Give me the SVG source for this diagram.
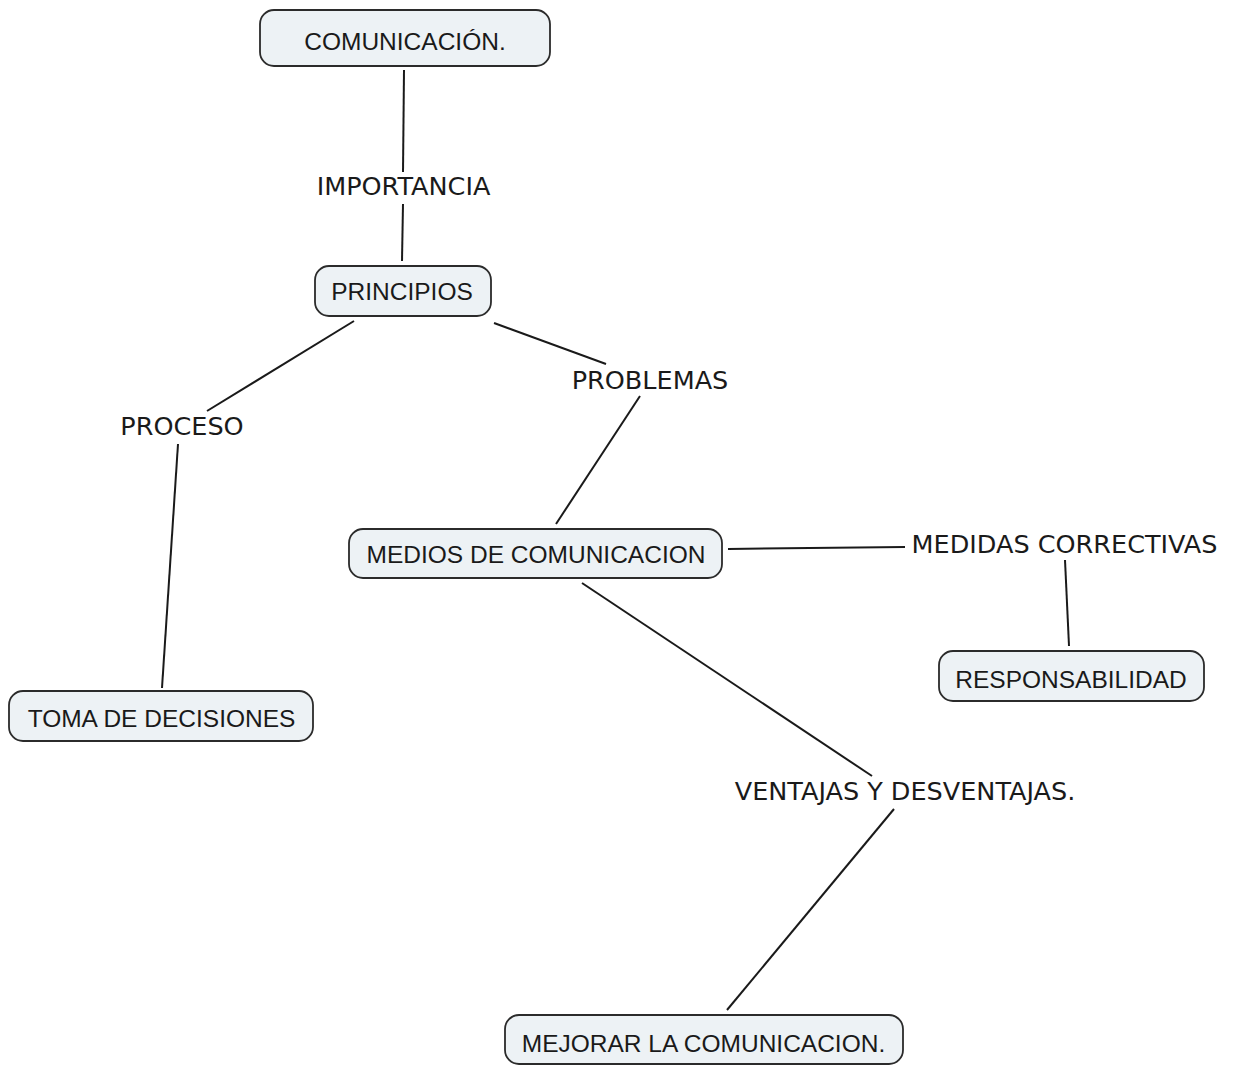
<svg xmlns="http://www.w3.org/2000/svg" width="1235" height="1065" viewBox="0 0 1235 1065">
  <style>
    .node rect { fill: #edf2f5; stroke: #2b2b2b; stroke-width: 1.8; }
    .node text { font-family: "Liberation Sans", Arial, sans-serif; font-size: 24.5px; fill: #1a1a1a; text-anchor: middle; }
    .link { stroke: #1a1a1a; stroke-width: 2; fill: none; }
    .label { font-family: "DejaVu Sans", Verdana, sans-serif; font-size: 25.5px; fill: #1a1a1a; text-anchor: middle; }
  </style>
  <rect width="1235" height="1065" fill="#ffffff"/>

  <!-- connectors -->
  <g id="connectors">
    <line class="link" x1="404" y1="70" x2="403" y2="172"/>
    <line class="link" x1="403" y1="204" x2="402" y2="261"/>
    <line class="link" x1="354" y1="321" x2="207" y2="411"/>
    <line class="link" x1="178" y1="444" x2="162" y2="688"/>
    <line class="link" x1="494" y1="323" x2="606" y2="364"/>
    <line class="link" x1="640" y1="396" x2="556" y2="524"/>
    <line class="link" x1="728" y1="549" x2="905" y2="547"/>
    <line class="link" x1="1065" y1="560" x2="1069" y2="646"/>
    <line class="link" x1="582" y1="583" x2="872" y2="776"/>
    <line class="link" x1="894" y1="809" x2="727" y2="1010"/>
  </g>

  <!-- link labels -->
  <g id="labels">
    <text class="label" x="403.5" y="195">IMPORTANCIA</text>
    <text class="label" x="182" y="435">PROCESO</text>
    <text class="label" x="650" y="389">PROBLEMAS</text>
    <text class="label" x="1064.5" y="553">MEDIDAS CORRECTIVAS</text>
    <text class="label" x="905" y="800">VENTAJAS Y DESVENTAJAS.</text>
  </g>

  <!-- concepts -->
  <g id="node-comunicacion" class="node">
    <rect x="260" y="10" width="290" height="56" rx="14"/>
    <text x="405" y="50">COMUNICACIÓN.</text>
  </g>
  <g id="node-principios" class="node">
    <rect x="315" y="266" width="176" height="50" rx="14"/>
    <text x="402" y="300">PRINCIPIOS</text>
  </g>
  <g id="node-medios" class="node">
    <rect x="349" y="529" width="373" height="49" rx="14"/>
    <text x="536" y="563">MEDIOS DE COMUNICACION</text>
  </g>
  <g id="node-toma" class="node">
    <rect x="9" y="691" width="304" height="50" rx="14"/>
    <text x="161.5" y="727">TOMA DE DECISIONES</text>
  </g>
  <g id="node-responsabilidad" class="node">
    <rect x="939" y="651" width="265" height="50" rx="14"/>
    <text x="1071" y="688">RESPONSABILIDAD</text>
  </g>
  <g id="node-mejorar" class="node">
    <rect x="505" y="1015" width="398" height="49" rx="14"/>
    <text x="703.5" y="1052">MEJORAR LA COMUNICACION.</text>
  </g>
</svg>
